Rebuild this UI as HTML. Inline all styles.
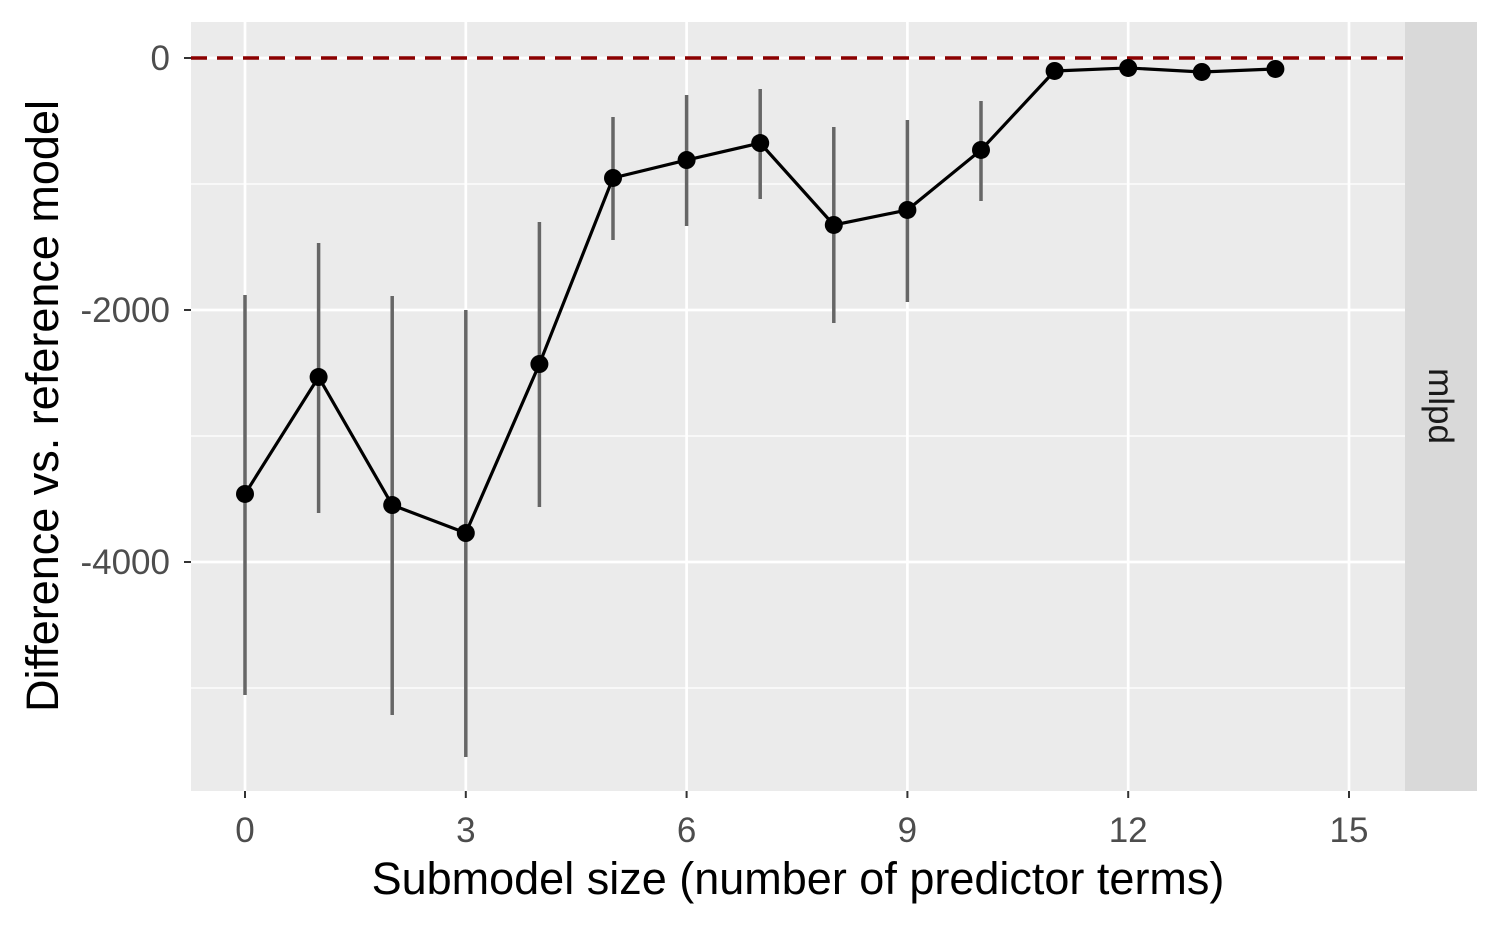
<!DOCTYPE html>
<html><head><meta charset="utf-8"><style>
body{margin:0;background:#fff;}
svg text{font-family:"Liberation Sans",Arial,sans-serif;}
</style></head><body>
<svg id="chart" width="1500" height="927" xmlns="http://www.w3.org/2000/svg">
<rect x="191" y="22" width="1214" height="769" fill="#ebebeb"/>
<rect x="1405" y="22" width="72" height="769" fill="#d9d9d9"/>
<text x="1438" y="406" font-size="35" fill="#1a1a1a" text-anchor="middle" dominant-baseline="middle" transform="rotate(90 1438 406)">mlpd</text>
<g id="grid"></g>
<g id="marks"></g>
<g id="axes"></g>
<text x="798" y="894" font-size="45" fill="#000" text-anchor="middle">Submodel size (number of predictor terms)</text>
<text x="58" y="406" font-size="45" fill="#000" text-anchor="middle" transform="rotate(-90 58 406)">Difference vs. reference model</text>
</svg>
<script>
const sizes=[0,1,2,3,4,5,6,7,8,9,10,11,12,13,14];
const values=[-3460,-2532,-3548,-3770,-2429,-952,-810,-675,-1325,-1206,-730,-103,-79,-111,-87];
const upper=[-1881,-1468,-1889,-2000,-1302,-468,-294,-246,-548,-492,-341,-80,-60,-90,-70];
const lower=[-5056,-3611,-5214,-5548,-3563,-1444,-1333,-1119,-2103,-1937,-1135,-125,-100,-135,-105];
const xTicks=[0,3,6,9,12,15];
const yTicks=[0,-2000,-4000];
const yMinor=[-1000,-3000,-5000];
const NS="http://www.w3.org/2000/svg";
const xs=v=>245+v*(1349-245)/15;
const ys=v=>58-v*0.126;
function mk(tag,attrs,parent){const e=document.createElementNS(NS,tag);for(const k in attrs)e.setAttribute(k,attrs[k]);document.getElementById(parent).appendChild(e);return e;}
yMinor.forEach(v=>{const l=mk('line',{x1:191,x2:1405,y1:ys(v),y2:ys(v),stroke:'#fff','stroke-width':1.3},'grid');

});
yTicks.forEach(v=>{const l=mk('line',{x1:191,x2:1405,y1:ys(v),y2:ys(v),stroke:'#fff','stroke-width':2.7},'grid');


const t=mk('text',{x:170,y:ys(v)+12,'font-size':35,fill:'#4d4d4d','text-anchor':'end'},'axes');t.textContent=v;


const k=mk('line',{x1:184,x2:191,y1:ys(v),y2:ys(v),stroke:'#333','stroke-width':2},'axes');

});
xTicks.forEach(v=>{const l=mk('line',{x1:xs(v),x2:xs(v),y1:22,y2:791,stroke:'#fff','stroke-width':2.7},'grid');


const t=mk('text',{x:xs(v),y:842,'font-size':35,fill:'#4d4d4d','text-anchor':'middle'},'axes');t.textContent=v;


const k=mk('line',{x1:xs(v),x2:xs(v),y1:791,y2:798,stroke:'#333','stroke-width':2},'axes');

});
const ref=mk('line',{x1:191,x2:1405,y1:ys(0),y2:ys(0),stroke:'#8b0000','stroke-width':3.5,'stroke-dasharray':'16 10'},'marks');


sizes.forEach((s,i)=>{const e=mk('line',{x1:xs(s),x2:xs(s),y1:ys(upper[i]),y2:ys(lower[i]),stroke:'#666','stroke-width':3.5},'marks');

});
const p=mk('polyline',{points:sizes.map((s,i)=>xs(s)+','+ys(values[i])).join(' '),fill:'none',stroke:'#000','stroke-width':3.2},'marks');


sizes.forEach((s,i)=>{const c=mk('circle',{cx:xs(s),cy:ys(values[i]),r:9,fill:'#000'},'marks');

});
</script>
</body></html>
